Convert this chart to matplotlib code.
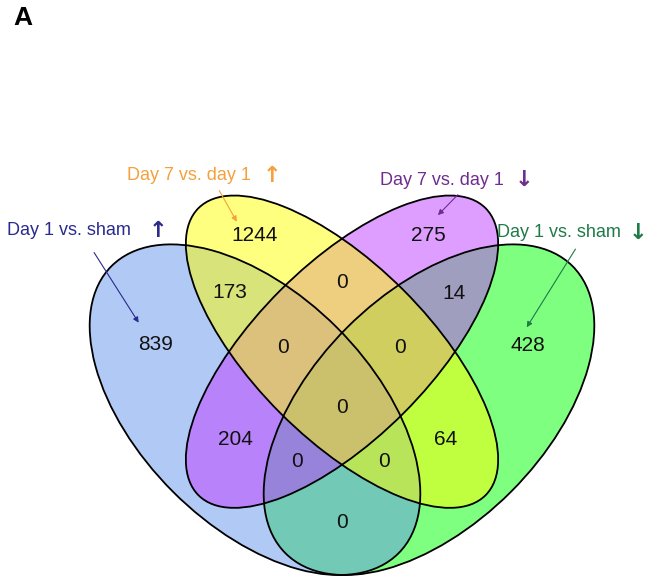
import matplotlib
matplotlib.use("Agg")
import matplotlib.pyplot as plt
from matplotlib.patches import Ellipse

plt.rcParams['font.family'] = ['Liberation Sans', 'DejaVu Sans']

# ---- data ----
set_names = ["Day 1 vs. sham", "Day 7 vs. day 1", "Day 7 vs. day 1", "Day 1 vs. sham"]
set_arrows = ["\u2191", "\u2191", "\u2193", "\u2193"]
set_colors_text = ["#2a2a8e", "#f5a03c", "#6e2d8f", "#1f7a48"]
fill_colors = ["cornflowerblue", "yellow", "#bf3eff", "#00ff00"]   # A, B, C, D

# region counts (A=blue, B=yellow, C=purple, D=green)
region_keys = ["A", "B", "C", "D", "AB", "BC", "CD", "AC", "BD", "AD",
               "ABC", "BCD", "ABD", "ACD", "ABCD"]
region_counts = [839, 1244, 275, 428, 173, 0, 14, 204, 64, 0,
                 0, 0, 0, 0, 0]

# ---- layout (VennDiagram quad geometry, unit square) ----
ell_geom = {  # x, y, a, b, angle
    "A": (0.35, 0.47, 0.35, 0.20, -45),
    "B": (0.50, 0.57, 0.35, 0.15, -45),
    "C": (0.50, 0.57, 0.35, 0.15, 45),
    "D": (0.65, 0.47, 0.35, 0.20, 45),
}
label_pos = {
    "A": (0.178, 0.582), "B": (0.350, 0.770), "C": (0.649, 0.770), "D": (0.821, 0.580),
    "AB": (0.307, 0.672), "BC": (0.500, 0.689), "CD": (0.693, 0.670),
    "AC": (0.317, 0.418), "BD": (0.679, 0.418), "AD": (0.500, 0.276),
    "ABC": (0.398, 0.578), "BCD": (0.600, 0.578),
    "ABD": (0.572, 0.380), "ACD": (0.422, 0.380), "ABCD": (0.500, 0.473),
}

fig = plt.figure(figsize=(6.49, 5.79), dpi=100)
ax = fig.add_axes([0, 0, 1, 1])
ax.set_xlim(-52 / 580, (649 - 52) / 580)
ax.set_ylim((682.3 - 579) / 580, 682.3 / 580)
ax.axis("off")

color_map = dict(zip("ABCD", fill_colors))
draw_order = ["D", "A", "C", "B"]
for i, k in enumerate(draw_order):
    x, y, a, b, ang = ell_geom[k]
    ax.add_patch(Ellipse((x, y), 2 * a, 2 * b, angle=ang, facecolor=color_map[k],
                         alpha=0.5, edgecolor="none", zorder=1 + i))
for k in "ABCD":
    x, y, a, b, ang = ell_geom[k]
    ax.add_patch(Ellipse((x, y), 2 * a, 2 * b, angle=ang, facecolor="none",
                         edgecolor="black", lw=1.3, zorder=10))

for key, cnt in zip(region_keys, region_counts):
    px, py = label_pos[key]
    ax.text(px, py, str(cnt), ha="center", va="center", fontsize=15, color="#111111", zorder=12)

# category labels with arrows
cat_text_pos = [(-0.0776, 0.7786), (0.129, 0.873), (0.5655, 0.866), (0.767, 0.775)]
cat_sym_x = [0.183, 0.379, 0.814, 1.010]
cat_arrow = [((0.070, 0.745), (0.152, 0.616)),
             ((0.286, 0.852), (0.321, 0.790)),
             ((0.703, 0.844), (0.662, 0.802)),
             ((0.905, 0.751), (0.816, 0.608))]
for name, sym, col, (tx, ty), sx, (p0, p1) in zip(set_names, set_arrows, set_colors_text,
                                                  cat_text_pos, cat_sym_x, cat_arrow):
    ax.text(tx, ty, name, ha="left", va="center", fontsize=13, color=col, zorder=12)
    ax.text(sx, ty, sym, ha="center", va="center", fontsize=16, color=col,
            fontweight="bold", family=["DejaVu Sans"], zorder=12)
    ax.annotate("", xy=p1, xytext=p0,
                arrowprops=dict(arrowstyle="-|>", color=col, lw=0.8, mutation_scale=8),
                zorder=13)

fig.text(13 / 649, 1 - 18 / 579, "A", fontsize=19, fontweight="bold", ha="left", va="center")

fig.savefig("out.png", dpi=100)
